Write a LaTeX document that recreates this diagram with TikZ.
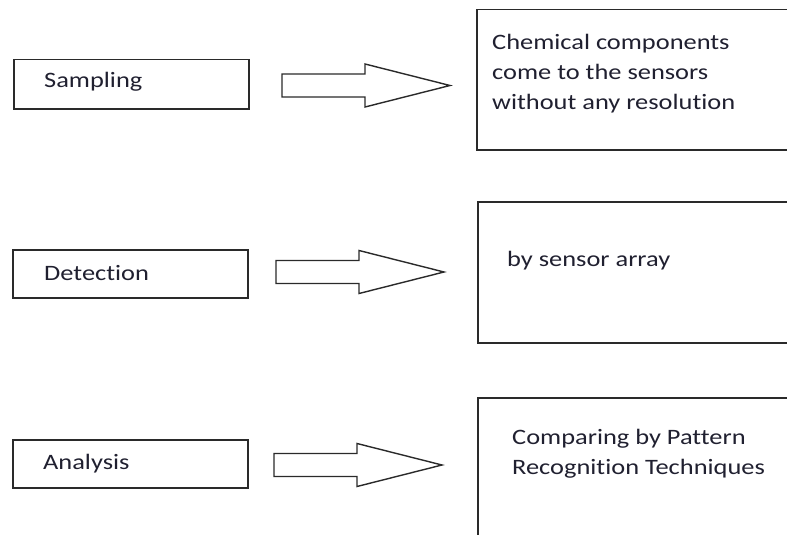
\documentclass[tikz,border=0pt]{standalone}
\usepackage{fontspec}
\setmainfont[FakeStretch=1.2,Ligatures={NoCommon}]{Carlito}
\definecolor{linec}{HTML}{2A2A2A}
\definecolor{textc}{HTML}{202030}
\tikzset{
  stepbox/.style={draw=linec, line width=1.5pt, rectangle, inner sep=0pt, anchor=north west},
  lbl/.style={inner sep=0pt, anchor=base west, text=textc, font=\fontsize{22}{30}\selectfont, align=left},
  blockarrow/.style={draw=linec, line width=1.4pt, fill=white, line join=miter},
}
\begin{document}
\begin{tikzpicture}[x=1pt,y=-1pt]
\useasboundingbox (0,0) rectangle (787,535);
\clip (0,0) rectangle (787,535);
% left boxes
\node[stepbox, minimum width=235pt, minimum height=49pt] (s) at (13,59) {};
\node[stepbox, minimum width=235pt, minimum height=48pt] (d) at (12,249) {};
\node[stepbox, minimum width=235pt, minimum height=48pt] (a) at (12,439) {};
% right boxes (run past the picture edge)
\node[stepbox, minimum width=340pt, minimum height=140pt] (rs) at (476,9) {};
\node[stepbox, minimum width=340pt, minimum height=141pt] (rd) at (477,201) {};
\node[stepbox, minimum width=340pt, minimum height=180pt] (ra) at (477,397) {};
% labels (base west of a multi-line label is the baseline of its last line)
\node[lbl] (ts) at (44,88) {Sampling};
\node[lbl] (td) at (44,280) {Detection};
\node[lbl] (ta) at (43,469) {Analysis};
\node[lbl] (trs) at (492,110) {Chemical components\\come to the sensors\\without any resolution};
\node[lbl] (trd) at (507,266) {by sensor array};
\node[lbl] (tra) at (512,474) {Comparing by Pattern\\Recognition Techniques};
% block arrows
\foreach \x/\y in {282/85.5, 276/272, 274/465}{
  \draw[blockarrow] (\x,\y-11.5) -- ++(83,0) -- ++(0,-10) -- (\x+168,\y) -- (\x+83,\y+21.5) -- ++(0,-10) -- (\x,\y+11.5) -- cycle;
}
\end{tikzpicture}
\end{document}
